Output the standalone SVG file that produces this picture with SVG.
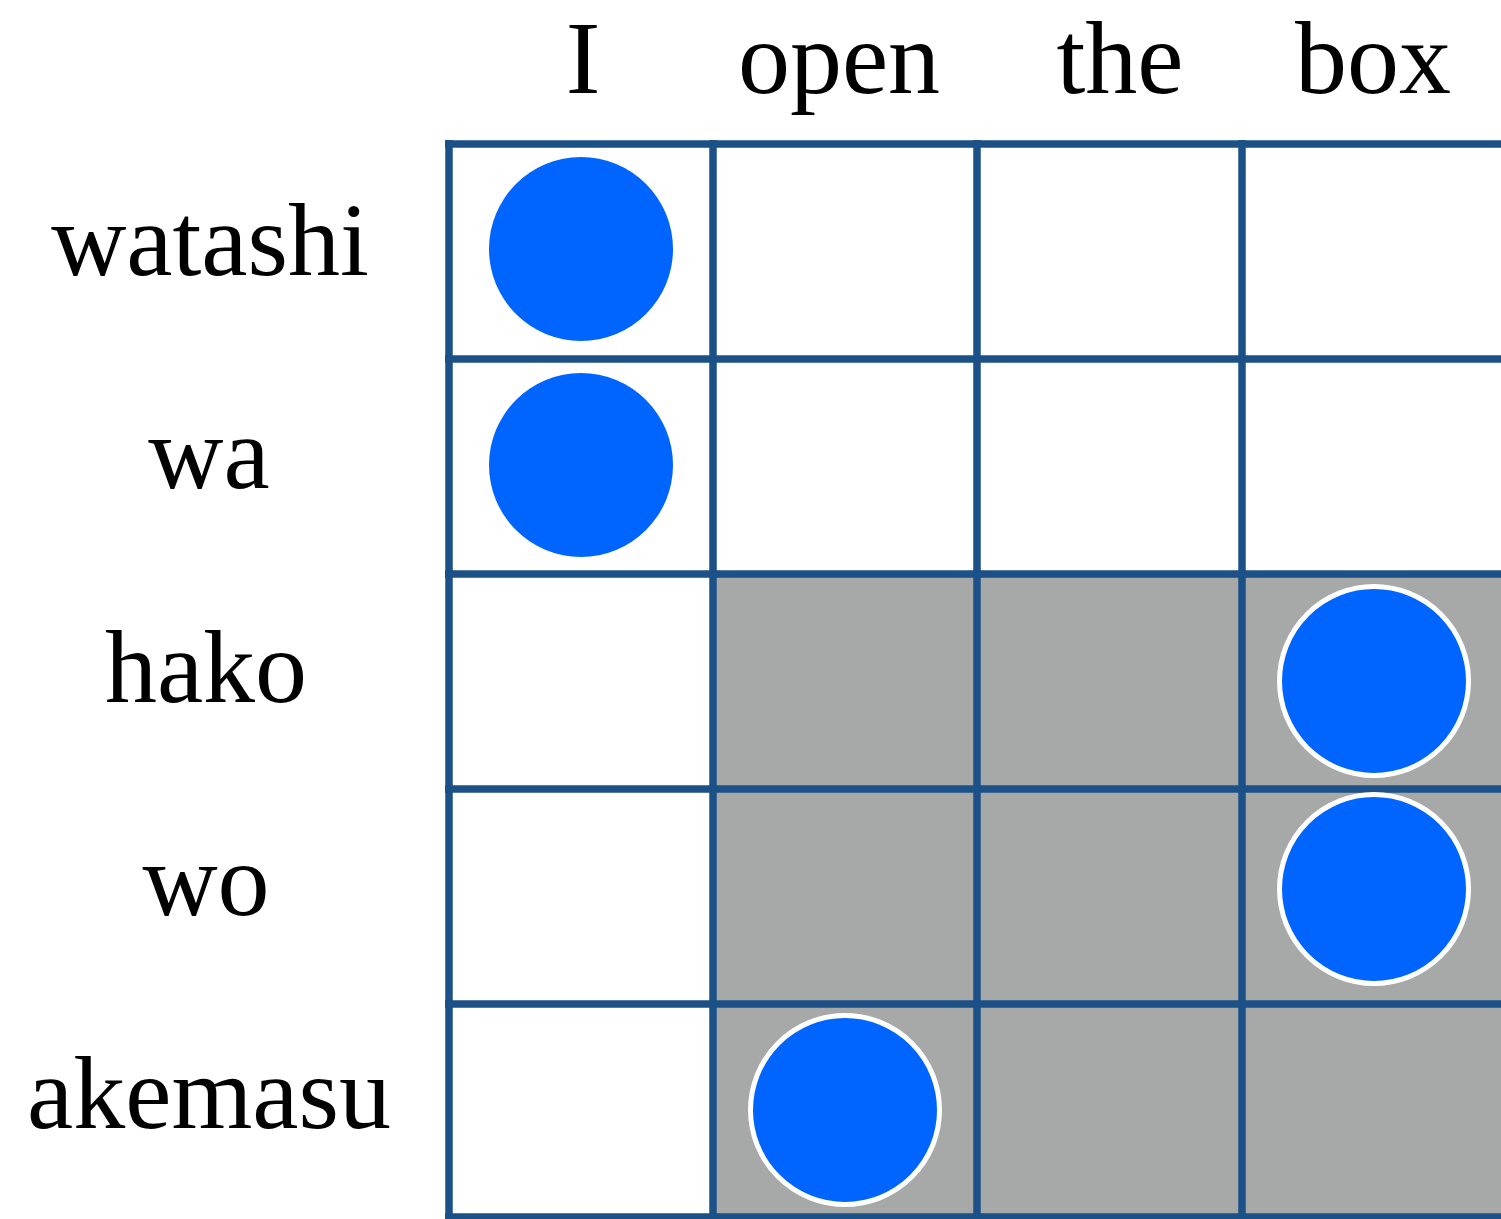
<svg xmlns="http://www.w3.org/2000/svg" width="1501" height="1219" viewBox="0 0 1501 1219">
  <style>
    .lbl { font-family: "Liberation Serif", "Times New Roman", serif; font-size: 104px; fill: #000; text-anchor: middle; }
    .grid line { stroke: #1b5186; stroke-width: 7.5; }
    .dot { fill: #0064ff; }
    .dot-w { fill: #0064ff; stroke: #ffffff; stroke-width: 5; }
  </style>
  <rect x="0" y="0" width="1501" height="1219" fill="#ffffff"/>
  <g id="shade">
    <rect x="713" y="574" width="800" height="645" fill="#a6a9a8"/>
  </g>
  <g id="grid" class="grid">
    <line x1="449" y1="140" x2="449" y2="1219"/>
    <line x1="713" y1="140" x2="713" y2="1219"/>
    <line x1="977" y1="140" x2="977" y2="1219"/>
    <line x1="1242" y1="140" x2="1242" y2="1219"/>
    <line x1="445" y1="144" x2="1501" y2="144"/>
    <line x1="445" y1="359" x2="1501" y2="359"/>
    <line x1="445" y1="574" x2="1501" y2="574"/>
    <line x1="445" y1="789" x2="1501" y2="789"/>
    <line x1="445" y1="1004" x2="1501" y2="1004"/>
    <line x1="445" y1="1217" x2="1501" y2="1217"/>
  </g>
  <g id="col-labels">
    <text id="col-I" class="lbl" x="583" y="93">I</text>
    <text id="col-open" class="lbl" x="839" y="93">open</text>
    <text id="col-the" class="lbl" x="1120" y="93">the</text>
    <text id="col-box" class="lbl" x="1373" y="93">box</text>
  </g>
  <g id="row-labels">
    <text id="row-watashi" class="lbl" x="210" y="275">watashi</text>
    <text id="row-wa" class="lbl" x="209" y="488">wa</text>
    <text id="row-hako" class="lbl" x="206" y="702">hako</text>
    <text id="row-wo" class="lbl" x="206" y="915">wo</text>
    <text id="row-akemasu" class="lbl" x="209" y="1128">akemasu</text>
  </g>
  <g id="alignments">
    <circle id="a-watashi-I" class="dot" cx="581" cy="249" r="92"/>
    <circle id="a-wa-I" class="dot" cx="581" cy="465" r="92"/>
    <circle id="a-hako-box" class="dot-w" cx="1374" cy="681" r="94.5"/>
    <circle id="a-wo-box" class="dot-w" cx="1374" cy="889" r="94.5"/>
    <circle id="a-akemasu-open" class="dot-w" cx="845" cy="1110" r="94.5"/>
  </g>
</svg>
